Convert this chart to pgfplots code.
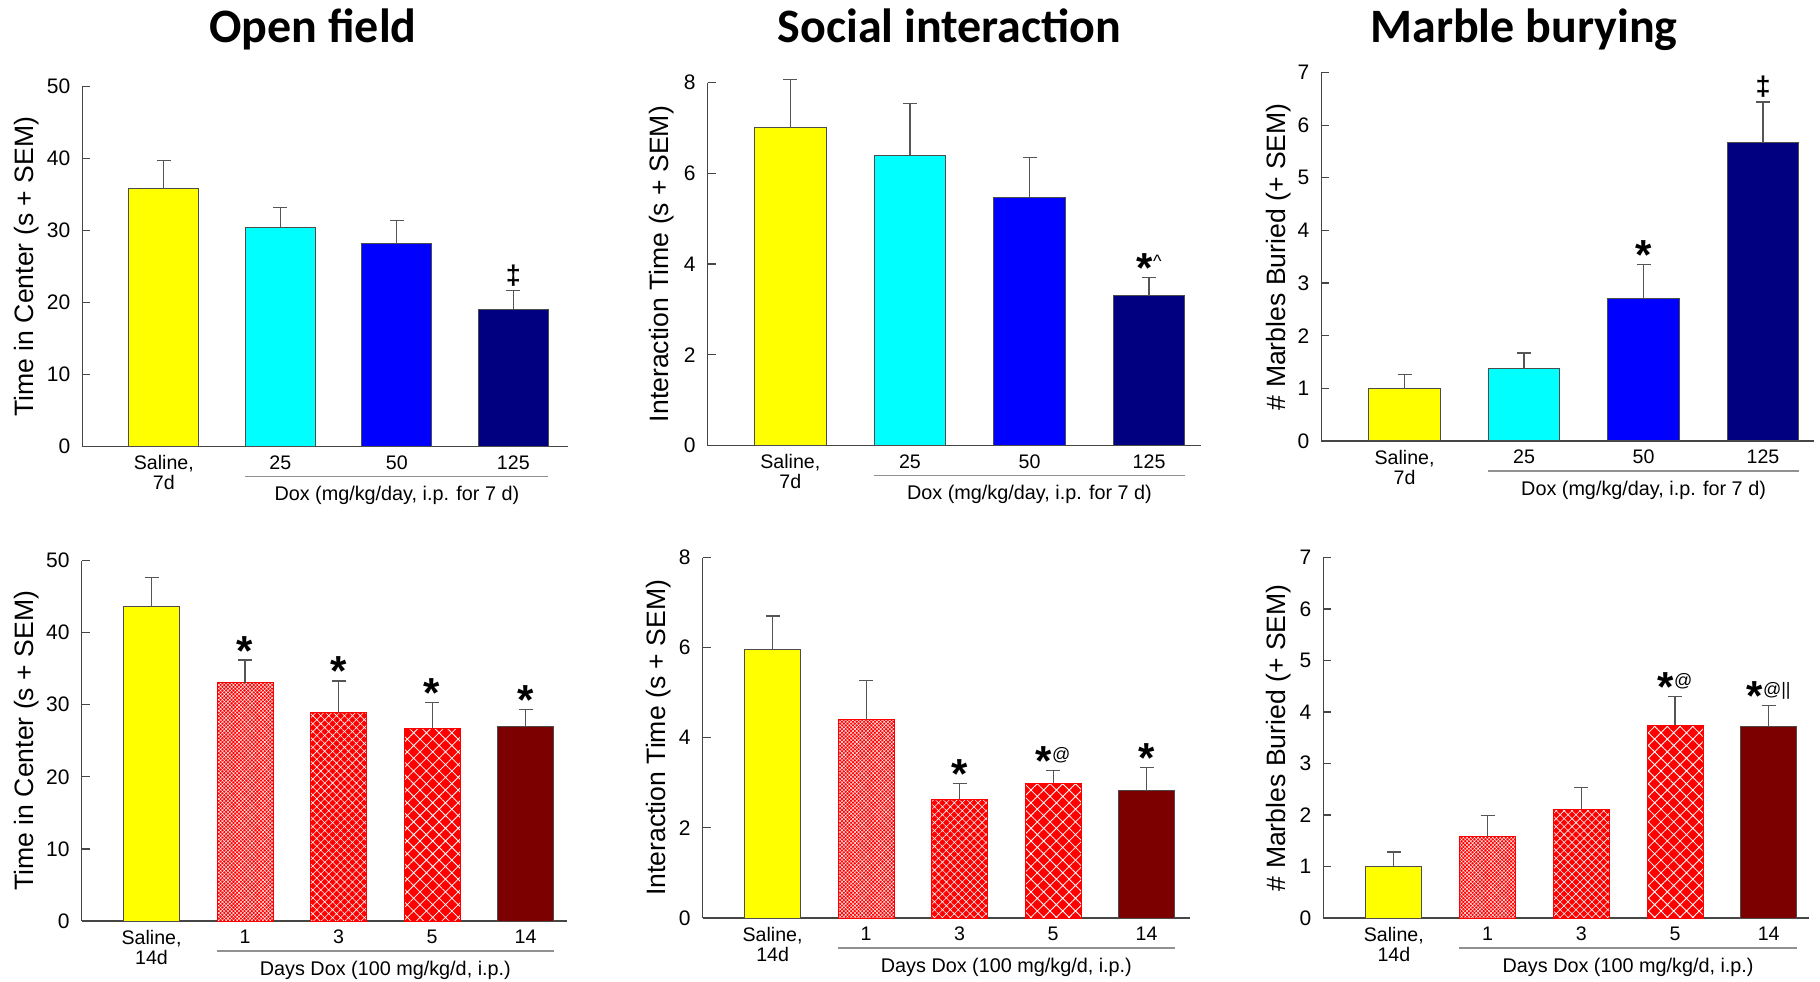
\documentclass[border=0pt]{standalone}
\usepackage{fontspec}
\setmainfont{Liberation Sans}
\newfontfamily\titlefont{Carlito}
\usepackage{pgfplots}
\pgfplotsset{compat=1.18}
\usetikzlibrary{patterns.meta}

\definecolor{salineY}{RGB}{255,255,0}
\definecolor{doseA}{RGB}{0,255,255}
\definecolor{doseB}{RGB}{0,0,255}
\definecolor{doseC}{RGB}{0,0,128}
\definecolor{dayR}{RGB}{255,0,0}
\definecolor{dayM}{RGB}{124,0,0}
\definecolor{axisgray}{RGB}{70,70,70}
\definecolor{errgray}{RGB}{85,85,85}
\definecolor{rulegray}{RGB}{145,145,145}

% significance marks
\newcommand{\sig}{{\bfseries\fontsize{21}{21}\selectfont *}}
\newcommand{\sups}[1]{\raisebox{7.5pt}{\fontsize{9}{9}\selectfont #1}}
\newcommand{\dd}{{\bfseries\fontsize{13.5}{13.5}\selectfont ‡}}

% rule under the treated groups, with its caption
\newcommand{\grouprule}[4]{%
  \draw[rulegray, line width=0.6pt] ([yshift=-15pt]axis cs:#1,0) -- ([yshift=-15pt]axis cs:#2,0);
  \node[font=\fontsize{9.9}{11}\selectfont, inner sep=0pt] at ([yshift=-24.5pt]axis cs:#3,0) {#4};
}

\tikzset{
  star/.style={anchor=base, inner sep=0pt, yshift=-2.5pt},
  dag/.style={anchor=south, inner sep=0pt, yshift=2pt},
}

\pgfplotsset{
  panel/.style={
    scale only axis, anchor=south west, clip=false,
    axis x line*=bottom, axis y line*=left,
    axis line style={draw=axisgray, line width=0.7pt},
    ymin=0,
    tick align=inside,
    major tick length=4pt,
    y tick style={draw=axisgray, line width=0.6pt},
    x tick style={draw=none},
    /pgf/number format/assume math mode=true,
    yticklabel style={font=\fontsize{10.5}{12}\selectfont, xshift=-2.5pt},
    xticklabel style={font=\fontsize{9.8}{10}\selectfont, align=center, yshift=-1pt},
    ylabel style={font=\fontsize{13.3}{15}\selectfont, anchor=center},
  },
  bar/.style={
    ybar, bar width=0.6, bar shift=0pt, draw=black!70, line width=0.5pt,
    /pgfplots/error bars/y dir=plus,
    /pgfplots/error bars/y explicit,
    /pgfplots/error bars/error bar style={draw=errgray, line width=0.6pt},
    /pgfplots/error bars/error mark options={draw=errgray, line width=0.6pt, mark size=3.5pt, rotate=90},
  },
  hatched/.style 2 args={fill=dayR, draw=dayR, line width=0.3pt,
    postaction={pattern={Hatch[angle=45, distance=#1, line width=#2]}, pattern color=white}},
}

\begin{document}
\begin{tikzpicture}
\useasboundingbox (0,0) rectangle (910pt,490.5pt);

\node[anchor=base, font=\titlefont\bfseries\fontsize{24}{24}\selectfont] at (156.5pt,469pt) {Open field};
\node[anchor=base, font=\titlefont\bfseries\fontsize{24}{24}\selectfont] at (474.75pt,469pt) {Social interaction};
\node[anchor=base, font=\titlefont\bfseries\fontsize{24}{24}\selectfont] at (762pt,469pt) {Marble burying};

% ---------- 7-day dose series ----------
\begin{axis}[panel, at={(41.15pt,267.15pt)}, width=242.9pt, height=180pt,
  xmin=-0.70, xmax=3.47, ymax=50, ytick={0,10,...,50},
  xtick={0,1,2,3}, xticklabels={{Saline,\\7d},25,50,125},
  ylabel={Time in Center (s + SEM)}, ylabel style={at={(axis description cs:-0.114,0.5)}}]
\addplot[bar, fill=salineY] coordinates {(0,35.9) +- (0,3.8)};
\addplot[bar, fill=doseA] coordinates {(1,30.5) +- (0,2.7)};
\addplot[bar, fill=doseB] coordinates {(2,28.2) +- (0,3.2)};
\addplot[bar, fill=doseC] coordinates {(3,19.1) +- (0,2.6)};
\node[dag] at (axis cs:3,21.7) {\dd};
\grouprule{0.7}{3.3}{2}{Dox (mg/kg/day, i.p. for 7 d)}
\end{axis}

\begin{axis}[panel, at={(353.75pt,267.75pt)}, width=246.5pt, height=181.5pt,
  xmin=-0.693, xmax=3.43, ymax=8, ytick={0,2,...,8},
  xtick={0,1,2,3}, xticklabels={{Saline,\\7d},25,50,125},
  ylabel={Interaction Time (s + SEM)}, ylabel style={at={(axis description cs:-0.093,0.5)}}]
\addplot[bar, fill=salineY] coordinates {(0,7.00) +- (0,1.06)};
\addplot[bar, fill=doseA] coordinates {(1,6.40) +- (0,1.13)};
\addplot[bar, fill=doseB] coordinates {(2,5.46) +- (0,0.88)};
\addplot[bar, fill=doseC] coordinates {(3,3.30) +- (0,0.41)};
\node[star] at (axis cs:3,3.71) {\sig\sups{\textasciicircum}};
\grouprule{0.7}{3.3}{2}{Dox (mg/kg/day, i.p. for 7 d)}
\end{axis}

\begin{axis}[panel, at={(660.7pt,270pt)}, width=246.5pt, height=184.25pt,
  xmin=-0.696, xmax=3.43, ymax=7, ytick={0,1,...,7},
  xtick={0,1,2,3}, xticklabels={{Saline,\\7d},25,50,125},
  ylabel={\# Marbles Buried (+ SEM)}, ylabel style={at={(axis description cs:-0.087,0.5)}}]
\addplot[bar, fill=salineY] coordinates {(0,1.00) +- (0,0.26)};
\addplot[bar, fill=doseA] coordinates {(1,1.37) +- (0,0.30)};
\addplot[bar, fill=doseB] coordinates {(2,2.70) +- (0,0.66)};
\addplot[bar, fill=doseC] coordinates {(3,5.67) +- (0,0.77)};
\node[star] at (axis cs:2,3.36) {\sig};
\node[dag] at (axis cs:3,6.44) {\dd};
\grouprule{0.7}{3.3}{2}{Dox (mg/kg/day, i.p. for 7 d)}
\end{axis}

% ---------- 100 mg/kg/d time course ----------
\begin{axis}[panel, at={(40.75pt,30pt)}, width=242.5pt, height=180.25pt,
  xmin=-0.749, xmax=4.437, ymax=50, ytick={0,10,...,50},
  xtick={0,1,2,3,4}, xticklabels={{Saline,\\14d},1,3,5,14},
  ylabel={Time in Center (s + SEM)}, ylabel style={at={(axis description cs:-0.113,0.5)}}]
\addplot[bar, fill=salineY] coordinates {(0,43.60) +- (0,4.05)};
\addplot[bar, hatched={1.3pt}{0.2pt}] coordinates {(1,33.06) +- (0,3.14)};
\addplot[bar, hatched={2.8pt}{0.28pt}] coordinates {(2,28.90) +- (0,4.40)};
\addplot[bar, hatched={4.5pt}{0.4pt}] coordinates {(3,26.75) +- (0,3.55)};
\addplot[bar, fill=dayM] coordinates {(4,26.98) +- (0,2.39)};
\node[star] at (axis cs:1,36.20) {\sig};
\node[star] at (axis cs:2,33.30) {\sig};
\node[star] at (axis cs:3,30.30) {\sig};
\node[star] at (axis cs:4,29.37) {\sig};
\grouprule{0.7}{4.3}{2.5}{Days Dox (100 mg/kg/d, i.p.)}
\end{axis}

\begin{axis}[panel, at={(351.3pt,31.5pt)}, width=243.75pt, height=180.25pt,
  xmin=-0.749, xmax=4.465, ymax=8, ytick={0,2,...,8},
  xtick={0,1,2,3,4}, xticklabels={{Saline,\\14d},1,3,5,14},
  ylabel={Interaction Time (s + SEM)}, ylabel style={at={(axis description cs:-0.091,0.5)}}]
\addplot[bar, fill=salineY] coordinates {(0,5.96) +- (0,0.74)};
\addplot[bar, hatched={1.3pt}{0.2pt}] coordinates {(1,4.40) +- (0,0.87)};
\addplot[bar, hatched={2.8pt}{0.28pt}] coordinates {(2,2.64) +- (0,0.34)};
\addplot[bar, hatched={4.5pt}{0.4pt}] coordinates {(3,2.99) +- (0,0.29)};
\addplot[bar, fill=dayM] coordinates {(4,2.82) +- (0,0.52)};
\node[star] at (axis cs:2,2.98) {\sig};
\node[star] at (axis cs:3,3.28) {\sig\sups{@}};
\node[star] at (axis cs:4,3.34) {\sig};
\grouprule{0.7}{4.3}{2.5}{Days Dox (100 mg/kg/d, i.p.)}
\end{axis}

\begin{axis}[panel, at={(661.65pt,31.5pt)}, width=243pt, height=180.25pt,
  xmin=-0.753, xmax=4.434, ymax=7, ytick={0,1,...,7},
  xtick={0,1,2,3,4}, xticklabels={{Saline,\\14d},1,3,5,14},
  ylabel={\# Marbles Buried (+ SEM)}, ylabel style={at={(axis description cs:-0.091,0.5)}}]
\addplot[bar, fill=salineY] coordinates {(0,1.00) +- (0,0.28)};
\addplot[bar, hatched={1.3pt}{0.2pt}] coordinates {(1,1.58) +- (0,0.41)};
\addplot[bar, hatched={2.8pt}{0.28pt}] coordinates {(2,2.12) +- (0,0.42)};
\addplot[bar, hatched={4.5pt}{0.4pt}] coordinates {(3,3.74) +- (0,0.56)};
\addplot[bar, fill=dayM] coordinates {(4,3.72) +- (0,0.40)};
\node[star] at (axis cs:3,4.30) {\sig\sups{@}};
\node[star] at (axis cs:4,4.12) {\sig\sups{@||}};
\grouprule{0.7}{4.3}{2.5}{Days Dox (100 mg/kg/d, i.p.)}
\end{axis}
\end{tikzpicture}
\end{document}
